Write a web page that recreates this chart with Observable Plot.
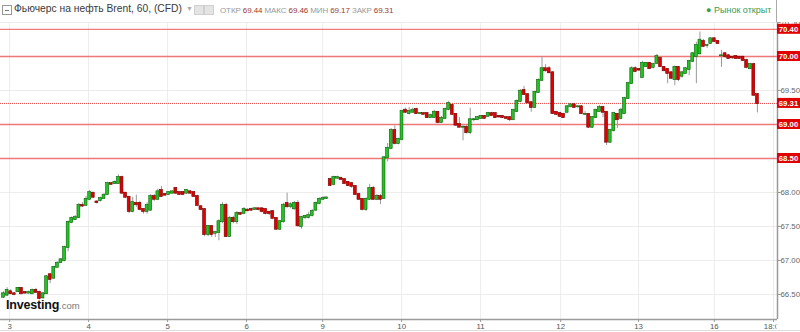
<!DOCTYPE html>
<html><head><meta charset="utf-8">
<script src="https://cdn.jsdelivr.net/npm/d3@7"></script>
<script src="https://cdn.jsdelivr.net/npm/@observablehq/plot@0.6"></script>
<style>
body{margin:0;background:#fff;font-family:"Liberation Sans",Arial,sans-serif;}
#wrap{position:relative;width:800px;height:332px;overflow:hidden;background:#fff;}
#hdr{position:relative;height:22px;white-space:nowrap;}
#hdr span{position:absolute;}
.ico{left:2px;top:5px;width:8px;height:8px;border:1px solid #999;}
.ico:after{content:"";position:absolute;left:2px;top:3.5px;width:4px;height:1px;background:#777;}
.ttl{left:14px;top:3px;font-size:10.3px;color:#3a3a3a;}
.dd{left:186px;top:5px;font-size:7px;color:#aaa;}
.sq{top:5px;width:8px;height:8px;background:#e4e4e4;border:1px solid #d0d0d0;}
.ohlc{left:220px;top:6px;font-size:8px;color:#999;letter-spacing:-0.1px;}
.ohlc b{font-weight:normal;color:#9a3a30;}
.mkt{left:706px;top:5px;font-size:9px;color:#3a9a52;}
.sep{left:776px;top:0;width:1px;height:22px;background:#aaa;}
#logo{position:absolute;left:6px;top:298px;font-size:12.5px;font-weight:bold;color:#111;letter-spacing:-0.2px;}
#logo span{font-size:9.5px;font-weight:normal;color:#777;letter-spacing:0;}
#bline{position:absolute;left:0;top:330px;width:800px;height:1px;background:#ddd;}
</style></head><body>
<div id="wrap">
 <div id="hdr">
  <span class="ico"></span>
  <span class="ttl">Фьючерс на нефть Brent, 60, (CFD)</span>
  <span class="dd">▼</span>
  <span class="sq" style="left:194px"></span><span class="sq" style="left:204px"></span>
  <span class="ohlc">ОТКР <b>69.44</b> МАКС <b>69.46</b> МИН <b>69.17</b> ЗАКР <b>69.31</b></span>
  <span class="mkt">● Рынок открыт</span>
  <span class="sep"></span>
 </div>
 <div id="chart"></div>
 <div id="logo">Investing<span>.com</span></div>
 <div id="bline"></div>
</div>
<script>
const opens = [66.46,66.49,66.54,66.51,66.54,66.59,66.53,66.52,66.51,66.56,66.53,66.45,66.51,66.79,66.74,66.90,66.97,67.00,67.19,67.56,67.60,67.63,67.81,67.81,67.90,67.99,67.86,67.88,67.91,67.97,68.13,68.13,68.13,68.22,67.99,67.93,67.72,67.84,67.84,67.75,67.72,67.74,67.94,67.90,68.03,67.97,67.97,67.99,68.06,68.00,68.00,67.99,68.01,68.00,67.94,67.79,67.75,67.38,67.50,67.40,67.41,67.57,67.81,67.35,67.62,67.57,67.69,67.69,67.74,67.75,67.75,67.76,67.76,67.75,67.71,67.72,67.62,67.46,67.57,67.84,67.79,67.76,67.84,67.50,67.63,67.63,67.66,67.74,67.84,67.90,67.91,68.19,68.12,68.21,68.21,68.19,68.15,68.13,68.09,67.97,67.90,67.75,67.90,68.06,67.90,67.94,67.91,68.51,68.65,68.91,68.72,68.78,69.21,69.16,69.18,69.22,69.16,69.16,69.16,69.10,69.10,69.18,69.03,69.09,69.22,69.28,69.15,69.00,68.96,68.96,68.88,69.07,69.07,69.09,69.12,69.12,69.16,69.16,69.12,69.12,69.10,69.10,69.07,69.19,69.34,69.50,69.44,69.32,69.25,69.47,69.65,69.82,69.82,69.76,69.18,69.16,69.15,69.18,69.26,69.29,69.26,69.26,69.15,69.15,68.96,69.10,69.19,69.25,69.18,68.74,68.91,69.15,69.09,69.16,69.38,69.60,69.82,69.81,69.69,69.85,69.90,69.84,69.90,69.97,69.84,69.81,69.76,69.66,69.84,69.71,69.75,69.81,69.93,70.00,70.04,70.22,70.16,70.19,70.26,70.22,70.01,70.04,70.01,69.99,70.00,69.99,69.99,69.94,69.82,69.88,69.44];
const highs = [66.54,66.60,66.57,66.53,66.60,66.60,66.54,66.55,66.58,66.59,66.55,66.53,66.78,66.81,66.91,66.98,67.03,67.21,67.58,67.64,67.66,67.84,67.85,67.94,68.03,68.00,67.88,67.93,67.98,68.15,68.14,68.17,68.26,68.24,68.00,67.94,67.93,67.96,67.87,67.76,67.85,67.97,67.97,68.05,68.09,67.98,68.01,68.02,68.07,68.01,68.01,68.04,68.03,68.01,67.96,67.81,67.76,67.51,67.51,67.43,67.60,67.85,67.84,67.65,67.65,67.72,67.71,67.78,67.76,67.77,67.78,67.77,67.77,67.76,67.72,67.73,67.63,67.59,67.84,67.99,67.85,67.87,67.88,67.65,67.66,67.71,67.75,67.86,67.92,67.94,67.93,68.21,68.24,68.24,68.22,68.20,68.16,68.15,68.10,67.99,67.91,67.92,68.12,68.09,67.97,67.97,68.53,68.72,68.94,68.98,68.80,69.21,69.24,69.25,69.24,69.24,69.17,69.17,69.17,69.15,69.21,69.19,69.12,69.24,69.34,69.29,69.16,69.10,68.98,68.98,69.24,69.09,69.12,69.13,69.13,69.18,69.18,69.17,69.13,69.13,69.11,69.11,69.22,69.36,69.51,69.56,69.45,69.34,69.49,69.67,70.00,69.88,69.85,69.78,69.19,69.18,69.16,69.28,69.31,69.31,69.28,69.28,69.19,69.16,69.12,69.22,69.28,69.27,69.19,68.93,69.18,69.16,69.24,69.40,69.62,69.85,69.85,69.82,69.93,69.91,69.91,69.90,70.03,69.98,69.85,69.82,69.78,69.86,69.85,69.78,69.84,69.94,70.06,70.21,70.36,70.25,70.18,70.28,70.28,70.23,70.09,70.06,70.03,70.00,70.01,70.00,70.00,69.96,69.90,69.90,69.46];
const lows = [66.44,66.47,66.50,66.48,66.53,66.50,66.51,66.51,66.50,66.52,66.42,66.43,66.50,66.66,66.72,66.89,66.96,66.98,67.13,67.54,67.59,67.62,67.78,67.80,67.88,67.91,67.83,67.86,67.90,67.96,68.11,68.12,68.12,67.97,67.91,67.69,67.70,67.78,67.73,67.68,67.68,67.72,67.87,67.88,67.93,67.95,67.96,67.97,67.97,67.96,67.96,67.97,67.97,67.93,67.79,67.73,67.35,67.35,67.34,67.34,67.29,67.54,67.34,67.34,67.54,67.53,67.66,67.68,67.72,67.72,67.74,67.73,67.70,67.67,67.66,67.60,67.44,67.44,67.55,67.77,67.76,67.74,67.49,67.46,67.60,67.61,67.64,67.72,67.82,67.89,67.90,68.09,68.10,68.20,68.18,68.12,68.09,68.06,67.96,67.88,67.73,67.72,67.88,67.88,67.88,67.82,67.90,68.45,68.63,68.70,68.70,68.76,69.16,69.14,69.17,69.15,69.15,69.14,69.09,69.09,69.09,69.01,69.02,69.07,69.20,69.13,68.97,68.95,68.76,68.86,68.85,69.04,69.06,69.08,69.08,69.11,69.12,69.09,69.10,69.09,69.07,69.04,69.06,69.18,69.32,69.43,69.30,69.18,69.24,69.46,69.63,69.77,69.75,69.15,69.13,69.10,69.09,69.16,69.25,69.24,69.24,69.15,69.13,68.94,68.94,69.09,69.18,69.10,68.69,68.72,68.89,68.94,69.07,69.15,69.37,69.59,69.76,69.78,69.68,69.84,69.81,69.82,69.88,69.84,69.78,69.60,69.66,69.57,69.63,69.68,69.74,69.72,69.91,69.60,70.02,70.13,70.12,70.18,70.21,70.18,69.84,69.97,69.96,69.96,69.96,69.96,69.93,69.82,69.81,69.41,69.17];
const closes = [66.51,66.56,66.51,66.50,66.59,66.51,66.52,66.53,66.56,66.53,66.44,66.51,66.76,66.72,66.90,66.96,67.01,67.19,67.56,67.62,67.63,67.81,67.80,67.90,68.00,67.93,67.85,67.91,67.96,68.13,68.12,68.15,68.22,67.99,67.93,67.72,67.85,67.82,67.75,67.72,67.81,67.94,67.90,68.01,67.94,67.96,68.00,68.01,67.99,67.97,67.97,68.03,67.99,67.94,67.81,67.75,67.38,67.50,67.38,67.41,67.57,67.81,67.35,67.62,67.57,67.69,67.68,67.75,67.73,67.74,67.76,67.75,67.72,67.69,67.69,67.62,67.46,67.57,67.81,67.79,67.82,67.84,67.51,67.63,67.65,67.66,67.72,67.84,67.90,67.91,67.92,68.10,68.22,68.22,68.19,68.13,68.10,68.09,67.97,67.90,67.75,67.90,68.06,67.90,67.94,67.90,68.51,68.65,68.91,68.72,68.78,69.19,69.18,69.19,69.21,69.16,69.16,69.15,69.10,69.13,69.18,69.03,69.09,69.22,69.31,69.15,68.99,68.96,68.96,68.88,69.07,69.07,69.10,69.12,69.09,69.16,69.13,69.10,69.11,69.10,69.09,69.07,69.21,69.34,69.49,69.44,69.32,69.25,69.47,69.65,69.82,69.79,69.76,69.16,69.15,69.12,69.10,69.26,69.29,69.25,69.26,69.16,69.15,68.96,69.10,69.21,69.25,69.18,68.74,68.91,69.16,69.07,69.21,69.38,69.60,69.82,69.78,69.80,69.90,69.90,69.82,69.88,70.00,69.85,69.79,69.75,69.68,69.84,69.66,69.76,69.82,69.93,70.04,70.16,70.24,70.15,70.16,70.26,70.22,70.19,70.01,70.00,69.97,69.98,69.97,69.97,69.94,69.84,69.88,69.43,69.31];

// day labels and their positions (in candle index units)
const dayLabels = ["3","4","5","6","9","10","11","12","13","16","18:00"];
const dayIndex  = [1.7, 23.7, 45.7, 67.7, 88.9, 110.9, 132.9, 155.2, 176.9, 198.0, 214.5];
const yTicks = [66.5, 67, 67.5, 68, 68.5, 69, 69.5, 70, 70.5];
const levels = [70.40, 70.00, 69.00, 68.50];
const lastPrice = 69.31;

const candles = opens.map((o, i) => ({i, o, h: highs[i], l: lows[i], c: closes[i]}));
const isUp = d => d.c >= d.o;
const xDomain = [-0.84, 215.6];
const yDomain = [66.132, 70.5];
// ticks whose labels are covered by a red level label get no gray label
const yLabelTicks = yTicks.filter(t => !levels.some(l => Math.abs(l - t) < 1e-9));

const chart = Plot.plot({
  width: 800, height: 310,
  marginLeft: 0, marginRight: 23, marginTop: 0, marginBottom: 13,
  x: {domain: xDomain},
  y: {domain: yDomain},
  style: {fontFamily: '"Liberation Sans", Arial, sans-serif', fontSize: "7.8px", color: "#666", background: "#fff"},
  marks: [
    Plot.gridY(yTicks, {stroke: "#ececec", strokeOpacity: 1}),
    Plot.gridX(dayIndex, {stroke: "#ececec", strokeOpacity: 1}),
    Plot.ruleY(levels, {stroke: "#ee6a6a", strokeWidth: 1.3, strokeOpacity: 0.9}),
    Plot.ruleY([lastPrice], {stroke: "#e04848", strokeWidth: 1, strokeDasharray: "1,1"}),
    Plot.ruleX(candles, {x: "i", y1: "l", y2: "h", stroke: "#9a9a9a", strokeWidth: 1}),
    Plot.rect(candles, {
      x1: d => d.i - 0.4, x2: d => d.i + 0.4, y1: "o", y2: "c",
      insetTop: -0.5, insetBottom: -0.5,
      fill: d => isUp(d) ? "#22c322" : "#e00000",
      stroke: d => isUp(d) ? "#0b5e0b" : "#700000",
      strokeWidth: 0.6
    }),
    Plot.ruleY([yDomain[0]], {stroke: "#9a9a9a", strokeWidth: 1.5}),
    Plot.ruleX([xDomain[1]], {stroke: "#9a9a9a", strokeWidth: 1.5}),
    Plot.axisY(yTicks, {anchor: "right", tickSize: 2.5, text: null, stroke: "#999", label: null}),
    Plot.axisY(yLabelTicks, {anchor: "right", tickSize: 2.5, tickPadding: 0.5, tickFormat: d => d.toFixed(2), fill: "#666", stroke: "#999", label: null}),
    Plot.axisX(dayIndex, {anchor: "bottom", tickSize: 3, tickPadding: 1, tickFormat: (d, k) => dayLabels[k], fill: "#555", stroke: "#999", label: null})
  ]
});

document.getElementById("chart").appendChild(chart);

// red price labels on the right, positioned through Plot's y scale
const sy = chart.scale("y");
const svg = d3.select(chart);
const lab = svg.append("g");
[...levels, lastPrice].forEach(v => {
  const yy = sy.apply(v);
  lab.append("rect").attr("x", 777).attr("y", yy - 5).attr("width", 23).attr("height", 10).attr("fill", "#e00000");
  lab.append("text").attr("x", 788.5).attr("y", yy).attr("dy", "0.35em")
    .attr("text-anchor", "middle").attr("fill", "#fff").attr("font-weight", "bold").attr("font-size", "7.8px")
    .text(v.toFixed(2));
});
// clip x-axis labels at the right axis line
const defs = svg.append("defs");
defs.append("clipPath").attr("id", "xclip").append("rect").attr("x", 0).attr("y", 0).attr("width", 776).attr("height", 310);
svg.selectAll('g[aria-label="x-axis tick label"]').attr("clip-path", "url(#xclip)");
</script>
</body></html>
